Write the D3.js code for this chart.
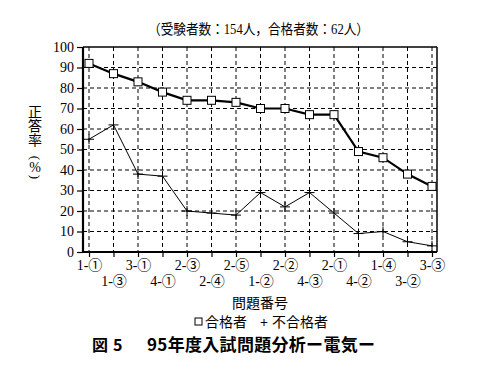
<!DOCTYPE html>
<html>
<head>
<meta charset="utf-8">
<script src="https://cdn.jsdelivr.net/npm/d3@7"></script>
<style>
  body { margin: 0; background: #fff; }
  text { fill: #000; }
</style>
</head>
<body>
<div id="chart-area"></div>
<script>
// Data
var questions = ["1-①", "1-③", "3-①", "4-①", "2-③", "2-④", "2-⑤", "1-②", "2-②", "4-③", "2-①", "4-②", "1-④", "3-②", "3-③"];
var passed = [92, 87, 83, 78, 74, 74, 73, 70, 70, 67, 67, 49, 46, 38, 32];
var failed = [55, 62, 38, 37, 20, 19, 18, 29, 22, 29, 19, 9, 10, 5, 3];
var yTicks = [0, 10, 20, 30, 40, 50, 60, 70, 80, 90, 100];

var W = 484, H = 375;
var serif = "'Liberation Serif', 'Noto Sans CJK JP', serif";
var gothic = "'Noto Sans CJK JP', sans-serif";
var plot = {left: 83, right: 437, top: 47, bottom: 252};

var svg = d3.select("#chart-area")
    .append("svg")
    .attr("width", W)
    .attr("height", H);

// Scales
var x = d3.scalePoint()
    .domain(questions)
    .range([89, 432]);

var y = d3.scaleLinear()
    .domain([0, 100])
    .range([plot.bottom, plot.top]);

// Grid (dashed)
var grid = svg.append("g")
    .attr("stroke", "#000")
    .attr("stroke-width", 1)
    .attr("stroke-dasharray", "4,3");

grid.selectAll(".hgrid")
    .data(yTicks.filter(d => d > 0 && d < 100))
    .enter().append("line")
    .attr("x1", plot.left).attr("x2", plot.right)
    .attr("y1", d => y(d)).attr("y2", d => y(d));

grid.selectAll(".vgrid")
    .data(questions)
    .enter().append("line")
    .attr("x1", d => x(d)).attr("x2", d => x(d))
    .attr("y1", plot.top).attr("y2", plot.bottom);

// Frame: top & right thinner
svg.append("line")
    .attr("x1", plot.left).attr("x2", plot.right)
    .attr("y1", plot.top).attr("y2", plot.top)
    .attr("stroke", "#000").attr("stroke-width", 1.5);
svg.append("line")
    .attr("x1", plot.right).attr("x2", plot.right)
    .attr("y1", plot.top).attr("y2", plot.bottom)
    .attr("stroke", "#000").attr("stroke-width", 1.5);

// Y axis
var leftAxis = d3.axisLeft(y).tickValues(yTicks).tickSize(6).tickPadding(3);
var gy = svg.append("g")
    .attr("transform", "translate(" + plot.left + ",0)")
    .call(leftAxis);
gy.select(".domain").attr("stroke-width", 2.2).attr("d", "M0," + plot.top + "V" + plot.bottom);
gy.selectAll(".tick line").attr("stroke-width", 1.2);
gy.selectAll(".tick text")
    .attr("font-family", serif)
    .attr("font-size", "14px")
    .attr("fill", "#000");

// X axis
var bottomAxis = d3.axisBottom(x).tickSize(5).tickSizeOuter(0);
var gx = svg.append("g")
    .attr("transform", "translate(0," + plot.bottom + ")")
    .call(bottomAxis);
gx.select(".domain").attr("stroke-width", 2.2).attr("d", "M" + plot.left + ",0H" + plot.right);
gx.selectAll(".tick line").attr("stroke-width", 1.2);
gx.selectAll(".tick text")
    .attr("font-family", serif)
    .attr("font-size", "14px")
    .attr("fill", "#000")
    .attr("dy", null)
    .attr("y", (d, i) => i % 2 === 0 ? 18 : 34);

// Lines
var line = d3.line()
    .x((d, i) => x(questions[i]))
    .y(d => y(d));

svg.append("path")
    .datum(failed)
    .attr("d", line)
    .attr("fill", "none")
    .attr("stroke", "#000")
    .attr("stroke-width", 1);

svg.append("path")
    .datum(passed)
    .attr("d", line)
    .attr("fill", "none")
    .attr("stroke", "#000")
    .attr("stroke-width", 2.2);

// Markers
svg.selectAll(".sq")
    .data(passed)
    .enter().append("rect")
    .attr("x", (d, i) => x(questions[i]) - 4)
    .attr("y", d => y(d) - 4)
    .attr("width", 8)
    .attr("height", 8)
    .attr("fill", "#fff")
    .attr("stroke", "#000")
    .attr("stroke-width", 1);

svg.selectAll(".plus")
    .data(failed)
    .enter().append("path")
    .attr("d", (d, i) => {
        var cx = x(questions[i]), cy = y(d);
        return "M" + (cx - 5) + "," + cy + "H" + (cx + 5) + "M" + cx + "," + (cy - 5) + "V" + (cy + 5);
    })
    .attr("stroke", "#000")
    .attr("stroke-width", 1);

// Subtitle
svg.append("text")
    .attr("x", 148)
    .attr("y", 34)
    .attr("font-family", serif)
    .attr("font-size", "14px")
    .attr("textLength", 221)
    .attr("lengthAdjust", "spacingAndGlyphs")
    .text("（受験者数：154人，合格者数：62人）");

// Y axis label (vertical)
var yl = ["正", "答", "率"];
yl.forEach((c, i) => {
    svg.append("text")
        .attr("x", 35)
        .attr("y", 117 + i * 14)
        .attr("text-anchor", "middle")
        .attr("font-family", serif)
        .attr("font-size", "14px")
        .text(c);
});
// rotated parentheses around %
svg.append("text")
    .attr("transform", "translate(35,158) rotate(90)")
    .attr("text-anchor", "middle").attr("dy", "0.32em")
    .attr("font-family", serif).attr("font-size", "13px").text("(");
svg.append("text").attr("x", 35).attr("y", 172).attr("text-anchor", "middle")
    .attr("font-family", serif).attr("font-size", "14px").text("%");
svg.append("text")
    .attr("transform", "translate(35,177) rotate(90)")
    .attr("text-anchor", "middle").attr("dy", "0.32em")
    .attr("font-family", serif).attr("font-size", "13px").text(")");

// X axis label
svg.append("text")
    .attr("x", 260)
    .attr("y", 308)
    .attr("text-anchor", "middle")
    .attr("font-family", serif)
    .attr("font-size", "14px")
    .text("問題番号");

// Legend
var legend = svg.append("g");
legend.append("rect")
    .attr("x", 195).attr("y", 318).attr("width", 7).attr("height", 7)
    .attr("fill", "#fff").attr("stroke", "#000").attr("stroke-width", 1);
legend.append("text")
    .attr("x", 205).attr("y", 327)
    .attr("font-family", serif).attr("font-size", "14px")
    .text("合格者");
legend.append("text")
    .attr("x", 260).attr("y", 327)
    .attr("font-family", serif).attr("font-size", "14px").attr("font-weight", "bold")
    .text("+");
legend.append("text")
    .attr("x", 272).attr("y", 327)
    .attr("font-family", serif).attr("font-size", "14px")
    .text("不合格者");

// Title
svg.append("text")
    .attr("x", 92)
    .attr("y", 351)
    .attr("font-family", gothic)
    .attr("font-size", "16px")
    .attr("font-weight", "bold")
    .text("図");
svg.append("text")
    .attr("x", 113)
    .attr("y", 351)
    .attr("font-family", gothic)
    .attr("font-size", "16px")
    .attr("font-weight", "bold")
    .text("5");
svg.append("text")
    .attr("x", 147)
    .attr("y", 351)
    .attr("font-family", gothic)
    .attr("font-size", "17px")
    .attr("font-weight", "bold")
    .attr("textLength", 228)
    .attr("lengthAdjust", "spacing")
    .text("95年度入試問題分析ー電気ー");
</script>
</body>
</html>
